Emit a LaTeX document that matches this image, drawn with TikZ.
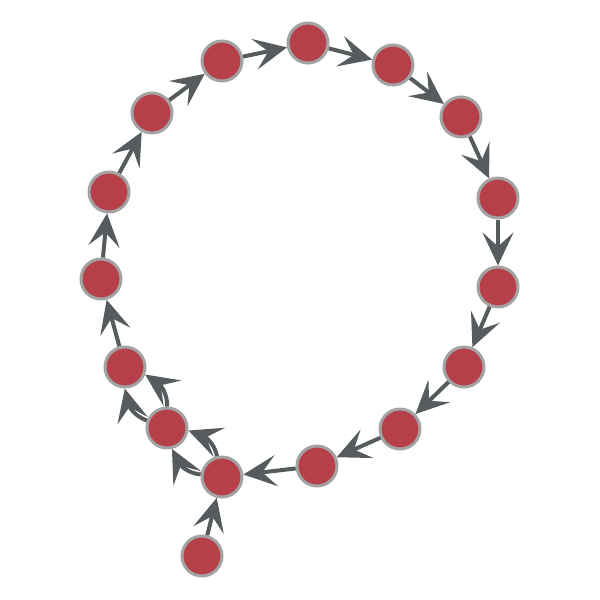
\documentclass[tikz,border=0pt]{standalone}
\usetikzlibrary{arrows.meta,bending}
\definecolor{nodered}{HTML}{B5404A}
\definecolor{ringgray}{HTML}{A3A3A3}
\definecolor{edgegray}{HTML}{565B5E}
\tikzset{
  vtx/.style={circle, minimum size=40pt, inner sep=0pt, fill=nodered, draw=ringgray, line width=3pt},
  lnk/.style={draw=edgegray, line width=4pt, -{Stealth[length=33pt,width=31pt,inset=14pt,flex]}},
}
\begin{document}
\begin{tikzpicture}[x=1pt,y=-1pt]
\useasboundingbox (0,0) rectangle (600,600);
\node[vtx] (n1) at (308,43) {};
\node[vtx] (n2) at (393,65) {};
\node[vtx] (n3) at (461,117) {};
\node[vtx] (n4) at (498,198) {};
\node[vtx] (n5) at (498,287) {};
\node[vtx] (n6) at (464,367) {};
\node[vtx] (n7) at (400,429) {};
\node[vtx] (n8) at (317,466) {};
\node[vtx] (n9) at (222,477) {};
\node[vtx] (n10) at (167,428) {};
\node[vtx] (n11) at (125,367) {};
\node[vtx] (n12) at (101,279) {};
\node[vtx] (n13) at (109,192) {};
\node[vtx] (n14) at (152,113) {};
\node[vtx] (n15) at (222,61) {};
\node[vtx] (n16) at (202,556) {};
\draw[lnk] (n1) -- (n2);
\draw[lnk] (n2) -- (n3);
\draw[lnk] (n3) -- (n4);
\draw[lnk] (n4) -- (n5);
\draw[lnk] (n5) -- (n6);
\draw[lnk] (n6) -- (n7);
\draw[lnk] (n7) -- (n8);
\draw[lnk] (n8) -- (n9);
\draw[lnk] (n9) to[bend left=35] (n10);
\draw[lnk] (n9) to[bend right=35] (n10);
\draw[lnk] (n10) to[bend left=35] (n11);
\draw[lnk] (n10) to[bend right=35] (n11);
\draw[lnk] (n11) -- (n12);
\draw[lnk] (n12) -- (n13);
\draw[lnk] (n13) -- (n14);
\draw[lnk] (n14) -- (n15);
\draw[lnk] (n15) -- (n1);
\draw[lnk] (n16) -- (n9);
\end{tikzpicture}
\end{document}
